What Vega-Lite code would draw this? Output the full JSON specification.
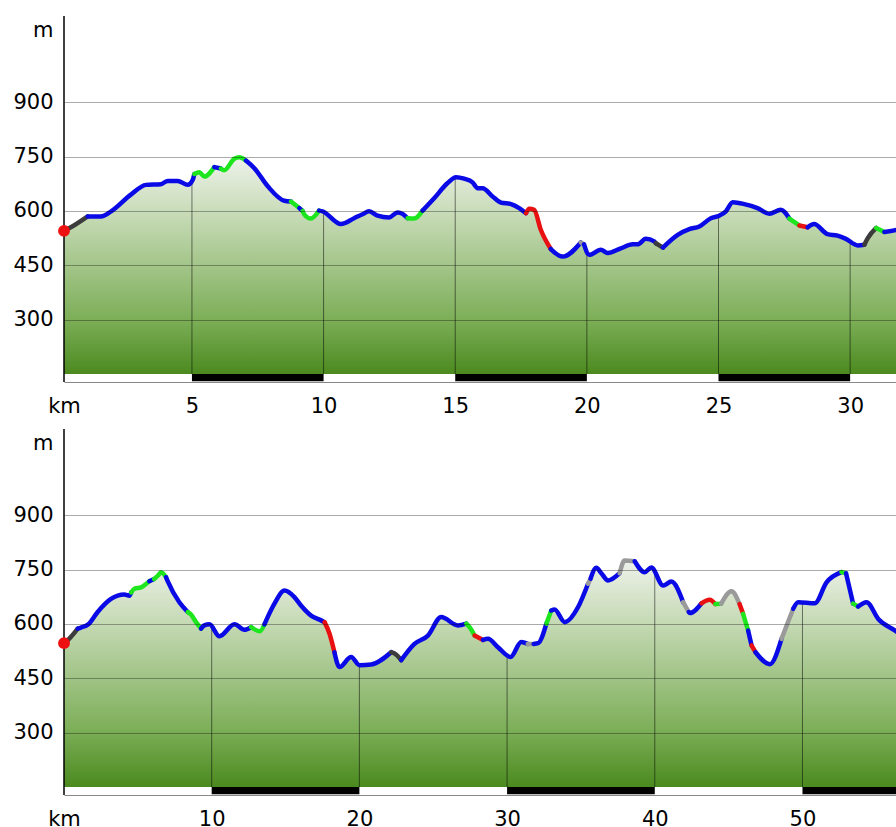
{
  "$schema": "https://vega.github.io/schema/vega-lite/v6.json",
  "padding": {"left": 12, "top": 15, "right": 0, "bottom": 0},
  "spacing": 12,
  "background": "white",
  "config": {
    "view": {"stroke": null},
    "font": "DejaVu Sans",
    "axis": {"labelFont": "DejaVu Sans", "labelFontSize": 21, "labelColor": "#000", "titleFont": "DejaVu Sans", "titleFontSize": 21, "titleFontWeight": "normal", "titleColor": "#000", "ticks": false}
  },
  "datasets": {
    "prof": [
      {"p":"A","s":1,"c":"dark","km":0.14,"e":545},{"p":"A","s":1,"c":"dark","km":0.33,"e":552},{"p":"A","s":1,"c":"dark","km":1.04,"e":585},
      {"p":"A","s":2,"c":"blue","km":1.04,"e":585},{"p":"A","s":2,"c":"blue","km":1.54,"e":585},{"p":"A","s":2,"c":"blue","km":1.93,"e":599},{"p":"A","s":2,"c":"blue","km":2.68,"e":645},{"p":"A","s":2,"c":"blue","km":3.25,"e":672},{"p":"A","s":2,"c":"blue","km":3.82,"e":674},{"p":"A","s":2,"c":"blue","km":4.08,"e":683},{"p":"A","s":2,"c":"blue","km":4.46,"e":683},{"p":"A","s":2,"c":"blue","km":4.84,"e":672},{"p":"A","s":2,"c":"blue","km":5.03,"e":686},{"p":"A","s":2,"c":"blue","km":5.09,"e":702},
      {"p":"A","s":3,"c":"green","km":5.09,"e":702},{"p":"A","s":3,"c":"green","km":5.28,"e":707},{"p":"A","s":3,"c":"green","km":5.47,"e":695},{"p":"A","s":3,"c":"green","km":5.85,"e":721},
      {"p":"A","s":4,"c":"blue","km":5.85,"e":721},{"p":"A","s":4,"c":"blue","km":6.1,"e":717},
      {"p":"A","s":5,"c":"green","km":6.1,"e":717},{"p":"A","s":5,"c":"green","km":6.22,"e":712},{"p":"A","s":5,"c":"green","km":6.61,"e":744},{"p":"A","s":5,"c":"green","km":6.8,"e":748},{"p":"A","s":5,"c":"green","km":7.05,"e":739},
      {"p":"A","s":6,"c":"blue","km":7.05,"e":739},{"p":"A","s":6,"c":"blue","km":7.37,"e":718},{"p":"A","s":6,"c":"blue","km":7.88,"e":668},{"p":"A","s":6,"c":"blue","km":8.51,"e":628},{"p":"A","s":6,"c":"blue","km":8.76,"e":626},
      {"p":"A","s":7,"c":"green","km":8.76,"e":626},{"p":"A","s":7,"c":"green","km":9.08,"e":608},
      {"p":"A","s":8,"c":"blue","km":9.08,"e":608},{"p":"A","s":8,"c":"blue","km":9.2,"e":600},
      {"p":"A","s":9,"c":"green","km":9.2,"e":600},{"p":"A","s":9,"c":"green","km":9.27,"e":590},{"p":"A","s":9,"c":"green","km":9.52,"e":579},{"p":"A","s":9,"c":"green","km":9.83,"e":601},
      {"p":"A","s":10,"c":"blue","km":9.83,"e":601},{"p":"A","s":10,"c":"blue","km":9.96,"e":599},{"p":"A","s":10,"c":"blue","km":10.66,"e":564},{"p":"A","s":10,"c":"blue","km":11.16,"e":580},{"p":"A","s":10,"c":"blue","km":11.48,"e":591},{"p":"A","s":10,"c":"blue","km":11.73,"e":599},{"p":"A","s":10,"c":"blue","km":12.05,"e":587},{"p":"A","s":10,"c":"blue","km":12.49,"e":582},{"p":"A","s":10,"c":"blue","km":12.81,"e":596},{"p":"A","s":10,"c":"blue","km":13.0,"e":592},{"p":"A","s":10,"c":"blue","km":13.19,"e":580},
      {"p":"A","s":11,"c":"green","km":13.19,"e":580},{"p":"A","s":11,"c":"green","km":13.44,"e":579},{"p":"A","s":11,"c":"green","km":13.76,"e":601},
      {"p":"A","s":12,"c":"blue","km":13.76,"e":601},{"p":"A","s":12,"c":"blue","km":14.2,"e":635},{"p":"A","s":12,"c":"blue","km":14.71,"e":677},{"p":"A","s":12,"c":"blue","km":15.03,"e":693},{"p":"A","s":12,"c":"blue","km":15.34,"e":689},{"p":"A","s":12,"c":"blue","km":15.66,"e":679},{"p":"A","s":12,"c":"blue","km":15.85,"e":663},{"p":"A","s":12,"c":"blue","km":16.04,"e":663},{"p":"A","s":12,"c":"blue","km":16.42,"e":640},{"p":"A","s":12,"c":"blue","km":16.74,"e":623},{"p":"A","s":12,"c":"blue","km":17.12,"e":619},{"p":"A","s":12,"c":"blue","km":17.43,"e":608},{"p":"A","s":12,"c":"blue","km":17.69,"e":594},
      {"p":"A","s":13,"c":"red","km":17.69,"e":594},{"p":"A","s":13,"c":"red","km":17.81,"e":606},{"p":"A","s":13,"c":"red","km":18.0,"e":603},{"p":"A","s":13,"c":"red","km":18.25,"e":548},{"p":"A","s":13,"c":"red","km":18.63,"e":495},
      {"p":"A","s":14,"c":"blue","km":18.63,"e":495},{"p":"A","s":14,"c":"blue","km":19.08,"e":474},{"p":"A","s":14,"c":"blue","km":19.77,"e":513},
      {"p":"A","s":15,"c":"gray","km":19.77,"e":513},{"p":"A","s":15,"c":"gray","km":19.89,"e":508},
      {"p":"A","s":16,"c":"blue","km":19.89,"e":508},{"p":"A","s":16,"c":"blue","km":20.09,"e":479},{"p":"A","s":16,"c":"blue","km":20.53,"e":493},{"p":"A","s":16,"c":"blue","km":20.79,"e":484},{"p":"A","s":16,"c":"blue","km":21.29,"e":497},{"p":"A","s":16,"c":"blue","km":21.74,"e":508},{"p":"A","s":16,"c":"blue","km":21.93,"e":508},{"p":"A","s":16,"c":"blue","km":22.24,"e":523},{"p":"A","s":16,"c":"blue","km":22.56,"e":516},{"p":"A","s":16,"c":"blue","km":22.62,"e":511},
      {"p":"A","s":17,"c":"dark","km":22.62,"e":511},{"p":"A","s":17,"c":"dark","km":22.89,"e":499},
      {"p":"A","s":18,"c":"blue","km":22.89,"e":499},{"p":"A","s":18,"c":"blue","km":23.45,"e":534},{"p":"A","s":18,"c":"blue","km":23.89,"e":550},{"p":"A","s":18,"c":"blue","km":24.27,"e":557},{"p":"A","s":18,"c":"blue","km":24.71,"e":580},{"p":"A","s":18,"c":"blue","km":25.03,"e":587},{"p":"A","s":18,"c":"blue","km":25.28,"e":599},{"p":"A","s":18,"c":"blue","km":25.54,"e":624},{"p":"A","s":18,"c":"blue","km":25.98,"e":619},{"p":"A","s":18,"c":"blue","km":26.48,"e":608},{"p":"A","s":18,"c":"blue","km":26.93,"e":592},{"p":"A","s":18,"c":"blue","km":27.37,"e":603},{"p":"A","s":18,"c":"blue","km":27.69,"e":579},
      {"p":"A","s":19,"c":"green","km":27.69,"e":579},{"p":"A","s":19,"c":"green","km":28.07,"e":560},
      {"p":"A","s":20,"c":"red","km":28.07,"e":560},{"p":"A","s":20,"c":"red","km":28.39,"e":555},
      {"p":"A","s":21,"c":"blue","km":28.39,"e":555},{"p":"A","s":21,"c":"blue","km":28.63,"e":564},{"p":"A","s":21,"c":"blue","km":29.14,"e":536},{"p":"A","s":21,"c":"blue","km":29.52,"e":532},{"p":"A","s":21,"c":"blue","km":29.84,"e":523},{"p":"A","s":21,"c":"blue","km":30.29,"e":505},{"p":"A","s":21,"c":"blue","km":30.54,"e":507},
      {"p":"A","s":22,"c":"dark","km":30.54,"e":507},{"p":"A","s":22,"c":"dark","km":30.67,"e":525},{"p":"A","s":22,"c":"dark","km":30.99,"e":553},
      {"p":"A","s":23,"c":"green","km":30.99,"e":553},{"p":"A","s":23,"c":"green","km":31.3,"e":542},
      {"p":"A","s":24,"c":"blue","km":31.3,"e":542},{"p":"A","s":24,"c":"blue","km":31.78,"e":548},{"p":"A","s":24,"c":"blue","km":31.9,"e":550},

      {"p":"B","s":1,"c":"dark","km":0,"e":547},{"p":"B","s":1,"c":"dark","km":0.25,"e":555},{"p":"B","s":1,"c":"dark","km":0.93,"e":587},
      {"p":"B","s":2,"c":"blue","km":0.93,"e":587},{"p":"B","s":2,"c":"blue","km":1.15,"e":590},{"p":"B","s":2,"c":"blue","km":1.65,"e":599},{"p":"B","s":2,"c":"blue","km":2.28,"e":633},{"p":"B","s":2,"c":"blue","km":3.18,"e":669},{"p":"B","s":2,"c":"blue","km":4.09,"e":681},{"p":"B","s":2,"c":"blue","km":4.43,"e":678},{"p":"B","s":2,"c":"blue","km":4.55,"e":687},
      {"p":"B","s":3,"c":"green","km":4.55,"e":687},{"p":"B","s":3,"c":"green","km":4.77,"e":697},{"p":"B","s":3,"c":"green","km":5.22,"e":701},{"p":"B","s":3,"c":"green","km":5.78,"e":718},
      {"p":"B","s":4,"c":"blue","km":5.78,"e":718},{"p":"B","s":4,"c":"blue","km":6.1,"e":724},
      {"p":"B","s":5,"c":"green","km":6.1,"e":724},{"p":"B","s":5,"c":"green","km":6.35,"e":733},{"p":"B","s":5,"c":"green","km":6.57,"e":743},{"p":"B","s":5,"c":"green","km":6.91,"e":729},
      {"p":"B","s":6,"c":"blue","km":6.91,"e":729},{"p":"B","s":6,"c":"blue","km":7.02,"e":718},{"p":"B","s":6,"c":"blue","km":7.81,"e":660},{"p":"B","s":6,"c":"blue","km":8.38,"e":633},
      {"p":"B","s":7,"c":"green","km":8.38,"e":633},{"p":"B","s":7,"c":"green","km":8.6,"e":626},{"p":"B","s":7,"c":"green","km":8.94,"e":605},{"p":"B","s":7,"c":"green","km":9.28,"e":587},
      {"p":"B","s":8,"c":"blue","km":9.28,"e":587},{"p":"B","s":8,"c":"blue","km":9.5,"e":596},{"p":"B","s":8,"c":"blue","km":9.85,"e":599},{"p":"B","s":8,"c":"blue","km":10.52,"e":566},{"p":"B","s":8,"c":"blue","km":11.54,"e":599},{"p":"B","s":8,"c":"blue","km":12.22,"e":584},{"p":"B","s":8,"c":"blue","km":12.67,"e":591},
      {"p":"B","s":9,"c":"green","km":12.67,"e":591},{"p":"B","s":9,"c":"green","km":13.26,"e":580},{"p":"B","s":9,"c":"green","km":13.57,"e":599},
      {"p":"B","s":10,"c":"blue","km":13.57,"e":599},{"p":"B","s":10,"c":"blue","km":14.25,"e":656},{"p":"B","s":10,"c":"blue","km":14.93,"e":692},{"p":"B","s":10,"c":"blue","km":15.6,"e":674},{"p":"B","s":10,"c":"blue","km":16.06,"e":650},{"p":"B","s":10,"c":"blue","km":16.73,"e":623},{"p":"B","s":10,"c":"blue","km":17.3,"e":612},{"p":"B","s":10,"c":"blue","km":17.64,"e":605},
      {"p":"B","s":11,"c":"red","km":17.64,"e":605},{"p":"B","s":11,"c":"red","km":17.98,"e":573},{"p":"B","s":11,"c":"red","km":18.31,"e":522},
      {"p":"B","s":12,"c":"blue","km":18.31,"e":522},{"p":"B","s":12,"c":"blue","km":18.65,"e":481},{"p":"B","s":12,"c":"blue","km":19.44,"e":509},{"p":"B","s":12,"c":"blue","km":20.01,"e":486},{"p":"B","s":12,"c":"blue","km":20.8,"e":488},{"p":"B","s":12,"c":"blue","km":22.15,"e":522},
      {"p":"B","s":13,"c":"dark","km":22.15,"e":522},{"p":"B","s":13,"c":"dark","km":22.5,"e":515},{"p":"B","s":13,"c":"dark","km":22.83,"e":500},
      {"p":"B","s":14,"c":"blue","km":22.83,"e":500},{"p":"B","s":14,"c":"blue","km":23.73,"e":545},{"p":"B","s":14,"c":"blue","km":24.64,"e":568},{"p":"B","s":14,"c":"blue","km":25.54,"e":619},{"p":"B","s":14,"c":"blue","km":26.67,"e":596},{"p":"B","s":14,"c":"blue","km":27.24,"e":601},
      {"p":"B","s":15,"c":"green","km":27.24,"e":601},{"p":"B","s":15,"c":"green","km":27.46,"e":591},{"p":"B","s":15,"c":"green","km":27.8,"e":568},
      {"p":"B","s":16,"c":"red","km":27.8,"e":568},{"p":"B","s":16,"c":"red","km":28.37,"e":556},
      {"p":"B","s":17,"c":"blue","km":28.37,"e":556},{"p":"B","s":17,"c":"blue","km":28.71,"e":559},{"p":"B","s":17,"c":"blue","km":29.38,"e":536},{"p":"B","s":17,"c":"blue","km":30.24,"e":509},{"p":"B","s":17,"c":"blue","km":30.96,"e":550},{"p":"B","s":17,"c":"blue","km":31.4,"e":545},
      {"p":"B","s":18,"c":"gray","km":31.4,"e":545},{"p":"B","s":18,"c":"gray","km":31.8,"e":545},
      {"p":"B","s":19,"c":"blue","km":31.8,"e":545},{"p":"B","s":19,"c":"blue","km":32.1,"e":547},{"p":"B","s":19,"c":"blue","km":32.66,"e":601},
      {"p":"B","s":20,"c":"green","km":32.66,"e":601},{"p":"B","s":20,"c":"green","km":32.99,"e":637},
      {"p":"B","s":21,"c":"blue","km":32.99,"e":637},{"p":"B","s":21,"c":"blue","km":33.22,"e":640},{"p":"B","s":21,"c":"blue","km":33.9,"e":605},{"p":"B","s":21,"c":"blue","km":34.8,"e":646},{"p":"B","s":21,"c":"blue","km":35.48,"e":711},
      {"p":"B","s":22,"c":"gray","km":35.48,"e":711},{"p":"B","s":22,"c":"gray","km":35.65,"e":725},
      {"p":"B","s":23,"c":"blue","km":35.65,"e":725},{"p":"B","s":23,"c":"blue","km":36.04,"e":755},{"p":"B","s":23,"c":"blue","km":36.38,"e":740},{"p":"B","s":23,"c":"blue","km":36.84,"e":720},{"p":"B","s":23,"c":"blue","km":37.62,"e":740},
      {"p":"B","s":24,"c":"gray","km":37.62,"e":740},{"p":"B","s":24,"c":"gray","km":37.96,"e":775},{"p":"B","s":24,"c":"gray","km":38.64,"e":773},
      {"p":"B","s":25,"c":"blue","km":38.64,"e":773},{"p":"B","s":25,"c":"blue","km":39.32,"e":743},{"p":"B","s":25,"c":"blue","km":39.77,"e":756},{"p":"B","s":25,"c":"blue","km":40.56,"e":706},{"p":"B","s":25,"c":"blue","km":41.12,"e":717},{"p":"B","s":25,"c":"blue","km":41.92,"e":660},
      {"p":"B","s":26,"c":"gray","km":41.92,"e":660},{"p":"B","s":26,"c":"gray","km":42.3,"e":633},
      {"p":"B","s":27,"c":"blue","km":42.3,"e":633},{"p":"B","s":27,"c":"blue","km":42.37,"e":630},{"p":"B","s":27,"c":"blue","km":43.16,"e":657},
      {"p":"B","s":28,"c":"red","km":43.16,"e":657},{"p":"B","s":28,"c":"red","km":43.72,"e":667},{"p":"B","s":28,"c":"red","km":44.1,"e":655},
      {"p":"B","s":29,"c":"green","km":44.1,"e":655},{"p":"B","s":29,"c":"green","km":44.5,"e":656},
      {"p":"B","s":30,"c":"gray","km":44.5,"e":656},{"p":"B","s":30,"c":"gray","km":45.19,"e":690},{"p":"B","s":30,"c":"gray","km":45.74,"e":655},
      {"p":"B","s":31,"c":"red","km":45.74,"e":655},{"p":"B","s":31,"c":"red","km":45.98,"e":628},
      {"p":"B","s":32,"c":"green","km":45.98,"e":628},{"p":"B","s":32,"c":"green","km":46.32,"e":582},
      {"p":"B","s":33,"c":"blue","km":46.32,"e":582},{"p":"B","s":33,"c":"blue","km":46.55,"e":541},
      {"p":"B","s":34,"c":"red","km":46.55,"e":541},{"p":"B","s":34,"c":"red","km":46.82,"e":522},
      {"p":"B","s":35,"c":"blue","km":46.82,"e":522},{"p":"B","s":35,"c":"blue","km":47.79,"e":489},{"p":"B","s":35,"c":"blue","km":48.58,"e":559},
      {"p":"B","s":36,"c":"gray","km":48.58,"e":559},{"p":"B","s":36,"c":"gray","km":49.37,"e":642},
      {"p":"B","s":37,"c":"blue","km":49.37,"e":642},{"p":"B","s":37,"c":"blue","km":49.71,"e":660},{"p":"B","s":37,"c":"blue","km":50.83,"e":657},{"p":"B","s":37,"c":"blue","km":51.63,"e":715},{"p":"B","s":37,"c":"blue","km":52.64,"e":743},
      {"p":"B","s":38,"c":"green","km":52.64,"e":743},{"p":"B","s":38,"c":"green","km":52.95,"e":740},
      {"p":"B","s":39,"c":"blue","km":52.95,"e":740},{"p":"B","s":39,"c":"blue","km":53.43,"e":656},
      {"p":"B","s":40,"c":"green","km":53.43,"e":656},{"p":"B","s":40,"c":"green","km":53.77,"e":648},
      {"p":"B","s":41,"c":"blue","km":53.77,"e":648},{"p":"B","s":41,"c":"blue","km":54.34,"e":660},{"p":"B","s":41,"c":"blue","km":55.13,"e":614},{"p":"B","s":41,"c":"blue","km":56.25,"e":582},{"p":"B","s":41,"c":"blue","km":56.5,"e":575}
    ],
    "ticks": [
      {"p":"A","km":5,"e":684},{"p":"A","km":10,"e":597},{"p":"A","km":15,"e":693},{"p":"A","km":20,"e":485},{"p":"A","km":25,"e":586},{"p":"A","km":30,"e":517},
      {"p":"B","km":10,"e":590},{"p":"B","km":20,"e":486},{"p":"B","km":30,"e":511},{"p":"B","km":40,"e":740},{"p":"B","km":50,"e":657}
    ],
    "bars": [
      {"p":"A","a":5,"b":10},{"p":"A","a":15,"b":20},{"p":"A","a":25,"b":30},
      {"p":"B","a":10,"b":20},{"p":"B","a":30,"b":40},{"p":"B","a":50,"b":60}
    ],
    "start": [
      {"p":"A","km":0.14,"e":545},{"p":"B","km":0,"e":547}
    ]
  },
  "vconcat": [
    {
      "width": 833,
      "height": 366,
      "layer": [
        {
          "data": {"name": "prof"},
          "transform": [{"filter": "datum.p == 'A'"}],
          "mark": {"type": "area", "interpolate": "monotone", "clip": true,
            "fill": {"gradient": "linear", "x1": 0, "y1": 0, "x2": 0, "y2": 1,
              "stops": [{"offset": 0, "color": "#eef2ea"}, {"offset": 0.25, "color": "#c9dcb9"}, {"offset": 0.5, "color": "#a3c589"}, {"offset": 0.75, "color": "#7cae57"}, {"offset": 1, "color": "#4b8a1f"}]}},
          "encoding": {
            "x": {"field": "km", "type": "quantitative", "scale": {"domain": [0.14, 31.78], "nice": false, "zero": false},
              "axis": {"values": [0.14, 5, 10, 15, 20, 25, 30], "labelExpr": "datum.value < 1 ? 'km' : format(datum.value, 'd')", "title": null, "grid": false, "domainColor": "#888", "domainWidth": 1, "labelPadding": 13, "labelFlush": false, "labelOverlap": false}},
            "y": {"field": "e", "type": "quantitative", "scale": {"domain": [128, 1138], "nice": false, "zero": false},
              "axis": {"values": [300, 450, 600, 750, 900], "grid": true, "gridColor": "#000", "gridOpacity": 0.33, "domain": false, "labelPadding": 11, "title": "m", "titleAngle": 0, "titleAlign": "right", "titleBaseline": "alphabetic", "titleX": -11, "titleY": 20, "zindex": 1}},
            "y2": {"datum": 150}
          }
        },
        {
          "data": {"name": "ticks"},
          "transform": [{"filter": "datum.p == 'A'"}],
          "mark": {"type": "rule", "color": "#000", "opacity": 0.5, "strokeWidth": 1},
          "encoding": {"x": {"field": "km", "type": "quantitative"}, "y": {"field": "e", "type": "quantitative"}, "y2": {"datum": 150}}
        },
        {
          "data": {"name": "bars"},
          "transform": [{"filter": "datum.p == 'A'"}],
          "mark": {"type": "rect", "color": "#000", "clip": true},
          "encoding": {"x": {"field": "a", "type": "quantitative"}, "x2": {"field": "b"}, "y": {"datum": 150}, "y2": {"datum": 130}}
        },
        {
          "data": {"values": [{}]},
          "mark": {"type": "rule", "color": "#000", "strokeWidth": 1.5},
          "encoding": {"x": {"datum": 0.14}, "y": {"datum": 128}, "y2": {"datum": 1138}}
        },
        {
          "data": {"name": "prof"},
          "transform": [{"filter": "datum.p == 'A'"}],
          "mark": {"type": "line", "interpolate": "monotone", "strokeWidth": 4.5, "strokeCap": "round", "strokeJoin": "round", "clip": true},
          "encoding": {
            "x": {"field": "km", "type": "quantitative"},
            "y": {"field": "e", "type": "quantitative"},
            "detail": {"field": "s"},
            "order": {"field": "km", "type": "quantitative"},
            "color": {"field": "c", "type": "nominal", "legend": null, "scale": {"domain": ["blue", "green", "red", "gray", "dark"], "range": ["#0a0ae6", "#1ee61e", "#e81010", "#9a9a9a", "#3c3c3c"]}}
          }
        },
        {
          "data": {"name": "start"},
          "transform": [{"filter": "datum.p == 'A'"}],
          "mark": {"type": "circle", "color": "#ee1111", "size": 140, "opacity": 1},
          "encoding": {"x": {"field": "km", "type": "quantitative"}, "y": {"field": "e", "type": "quantitative"}}
        }
      ]
    },
    {
      "width": 833,
      "height": 366,
      "layer": [
        {
          "data": {"name": "prof"},
          "transform": [{"filter": "datum.p == 'B'"}],
          "mark": {"type": "area", "interpolate": "monotone", "clip": true,
            "fill": {"gradient": "linear", "x1": 0, "y1": 0, "x2": 0, "y2": 1,
              "stops": [{"offset": 0, "color": "#eef2ea"}, {"offset": 0.25, "color": "#c9dcb9"}, {"offset": 0.5, "color": "#a3c589"}, {"offset": 0.75, "color": "#7cae57"}, {"offset": 1, "color": "#4b8a1f"}]}},
          "encoding": {
            "x": {"field": "km", "type": "quantitative", "scale": {"domain": [0, 56.4], "nice": false, "zero": false},
              "axis": {"values": [0, 10, 20, 30, 40, 50], "labelExpr": "datum.value < 1 ? 'km' : format(datum.value, 'd')", "title": null, "grid": false, "domainColor": "#888", "domainWidth": 1, "labelPadding": 13, "labelFlush": false, "labelOverlap": false}},
            "y": {"field": "e", "type": "quantitative", "scale": {"domain": [128, 1138], "nice": false, "zero": false},
              "axis": {"values": [300, 450, 600, 750, 900], "grid": true, "gridColor": "#000", "gridOpacity": 0.33, "domain": false, "labelPadding": 11, "title": "m", "titleAngle": 0, "titleAlign": "right", "titleBaseline": "alphabetic", "titleX": -11, "titleY": 20, "zindex": 1}},
            "y2": {"datum": 150}
          }
        },
        {
          "data": {"name": "ticks"},
          "transform": [{"filter": "datum.p == 'B'"}],
          "mark": {"type": "rule", "color": "#000", "opacity": 0.5, "strokeWidth": 1},
          "encoding": {"x": {"field": "km", "type": "quantitative"}, "y": {"field": "e", "type": "quantitative"}, "y2": {"datum": 150}}
        },
        {
          "data": {"name": "bars"},
          "transform": [{"filter": "datum.p == 'B'"}],
          "mark": {"type": "rect", "color": "#000", "clip": true},
          "encoding": {"x": {"field": "a", "type": "quantitative"}, "x2": {"field": "b"}, "y": {"datum": 150}, "y2": {"datum": 130}}
        },
        {
          "data": {"values": [{}]},
          "mark": {"type": "rule", "color": "#000", "strokeWidth": 1.5},
          "encoding": {"x": {"datum": 0}, "y": {"datum": 128}, "y2": {"datum": 1138}}
        },
        {
          "data": {"name": "prof"},
          "transform": [{"filter": "datum.p == 'B'"}],
          "mark": {"type": "line", "interpolate": "monotone", "strokeWidth": 4.5, "strokeCap": "round", "strokeJoin": "round", "clip": true},
          "encoding": {
            "x": {"field": "km", "type": "quantitative"},
            "y": {"field": "e", "type": "quantitative"},
            "detail": {"field": "s"},
            "order": {"field": "km", "type": "quantitative"},
            "color": {"field": "c", "type": "nominal", "legend": null, "scale": {"domain": ["blue", "green", "red", "gray", "dark"], "range": ["#0a0ae6", "#1ee61e", "#e81010", "#9a9a9a", "#3c3c3c"]}}
          }
        },
        {
          "data": {"name": "start"},
          "transform": [{"filter": "datum.p == 'B'"}],
          "mark": {"type": "circle", "color": "#ee1111", "size": 140, "opacity": 1},
          "encoding": {"x": {"field": "km", "type": "quantitative"}, "y": {"field": "e", "type": "quantitative"}}
        }
      ]
    }
  ]
}
